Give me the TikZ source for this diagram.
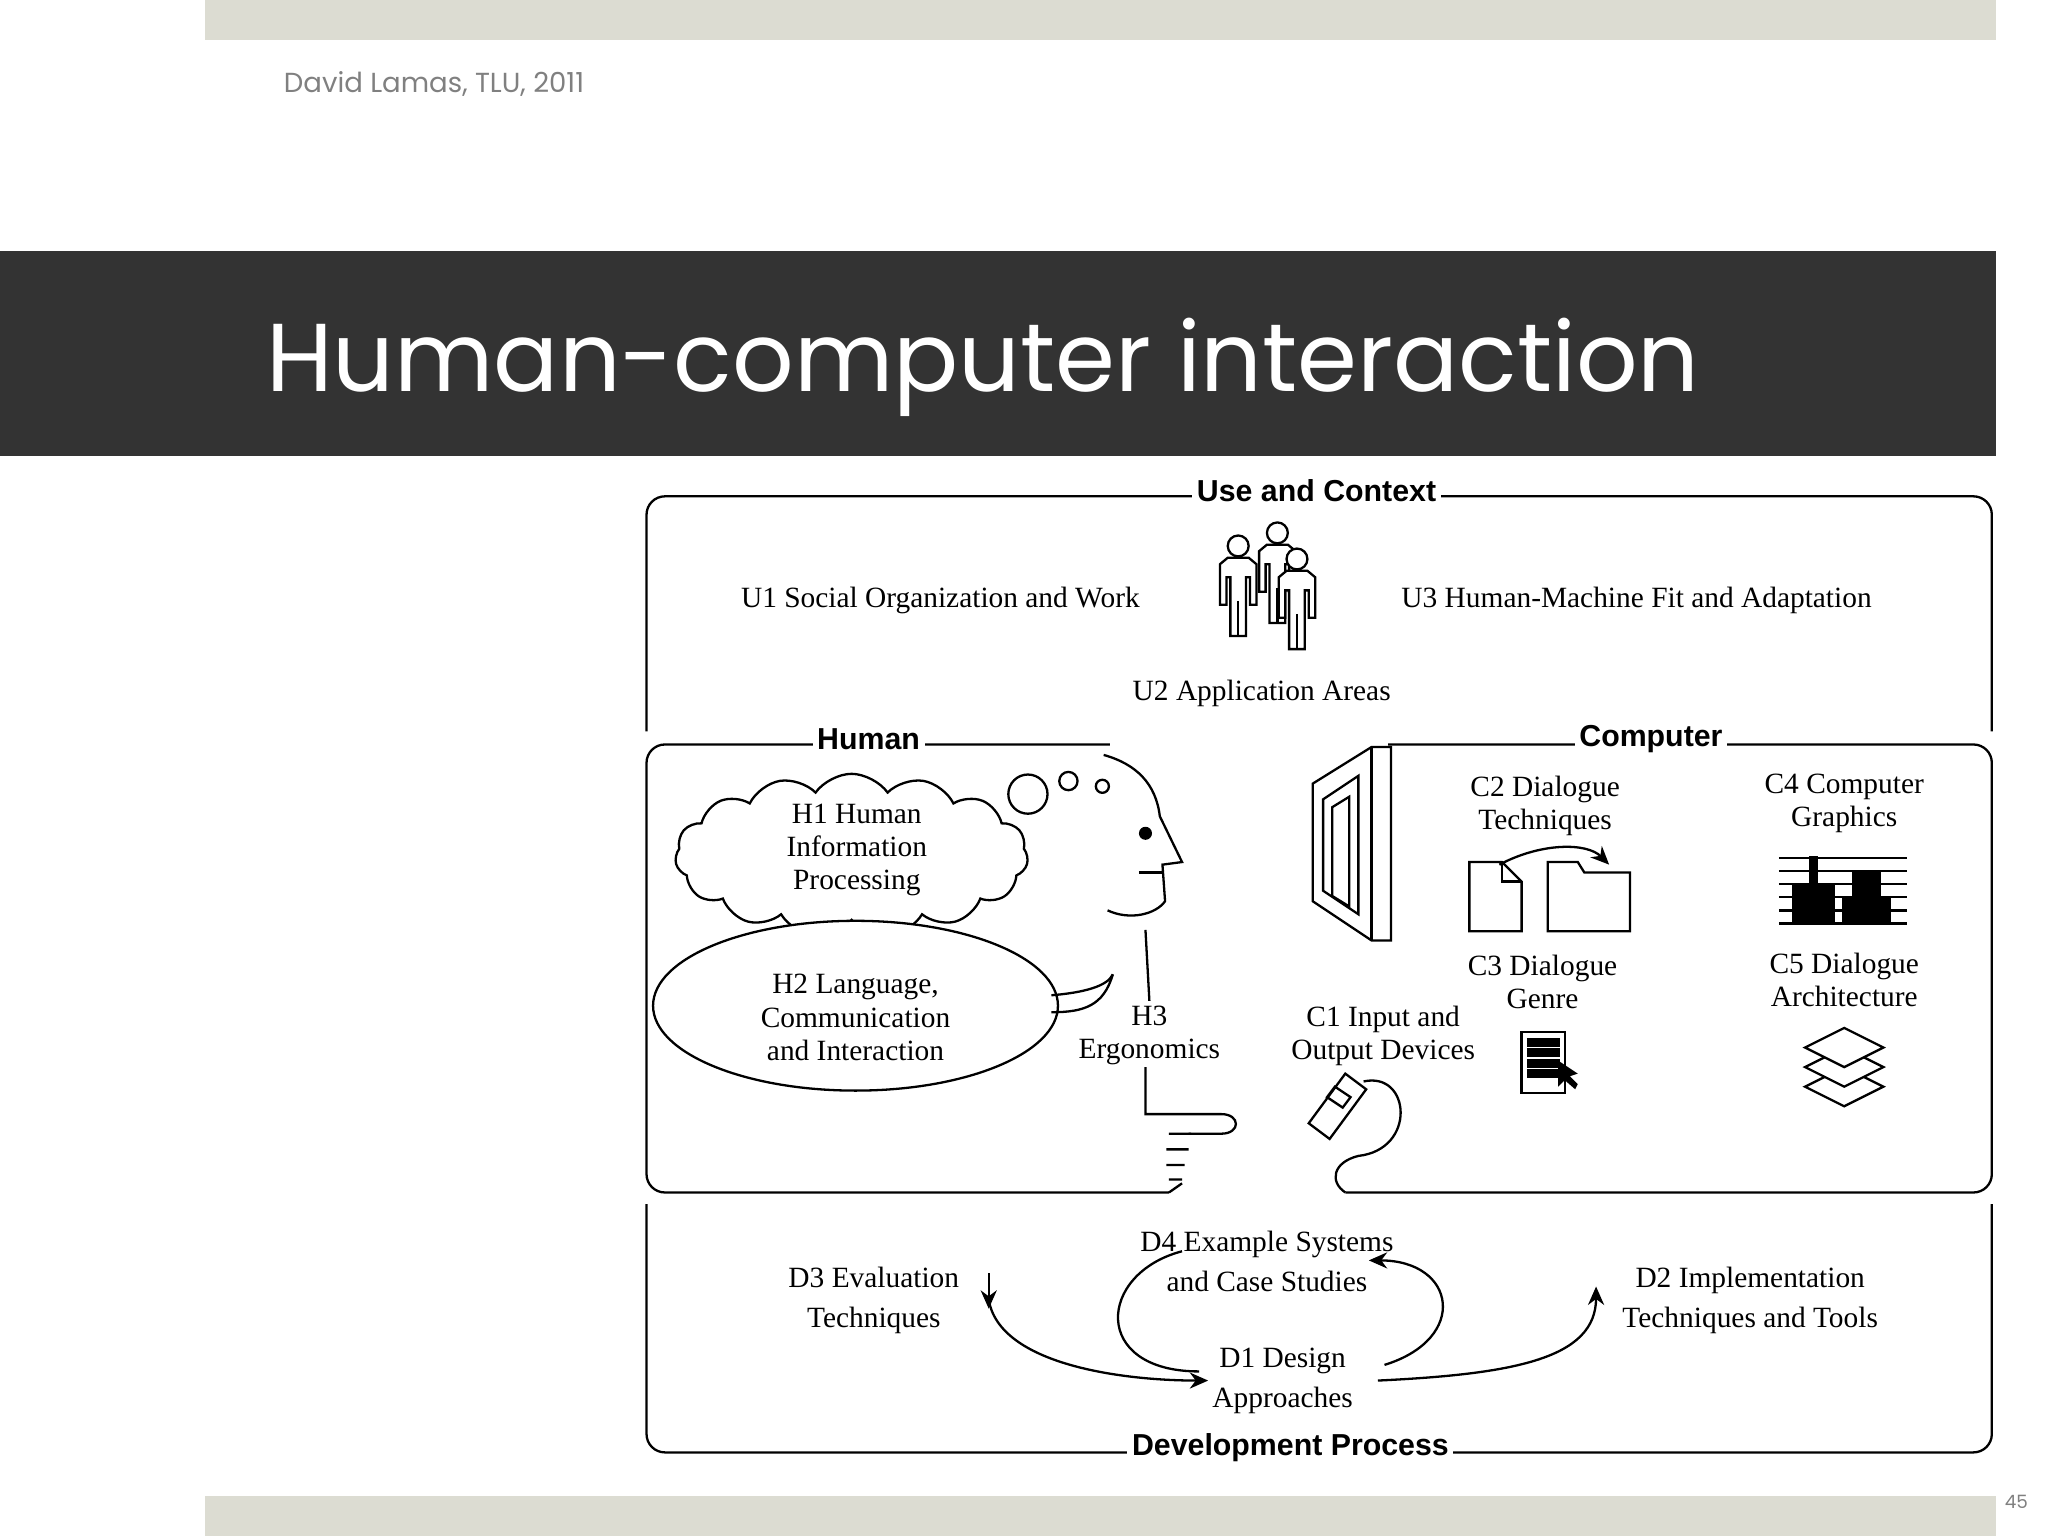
\documentclass[tikz,border=0pt]{standalone}
\usepackage{fontspec}
\setmainfont{Liberation Serif}
\newfontfamily\titlefont{Poppins}
\newfontfamily\hdfont{Liberation Sans}
\usetikzlibrary{arrows.meta,shapes.symbols,shapes.geometric}
\definecolor{barg}{HTML}{DCDCD2}
\definecolor{band}{HTML}{333333}
\tikzset{
 lab/.style={font=\fontsize{6.4}{7.2}\selectfont, align=center, inner sep=1pt},
 hd/.style={font=\hdfont\bfseries\fontsize{6.6}{7}\selectfont, inner sep=1pt, fill=white},
 ln/.style={line width=0.5pt, black},
 arr/.style={ln, -{Stealth[length=4pt,width=3.5pt]}}
}
\begin{document}
\begin{tikzpicture}[x=0.01cm,y=-0.01cm]
\useasboundingbox (0,0) rectangle (1568,1176);
\fill[barg] (157,0) rectangle (1528,31);
\fill[barg] (157,1145) rectangle (1528,1176);
\node[anchor=west, text=gray, font=\titlefont\fontsize{6}{7}\selectfont] (auth) at (205,64) {David Lamas, TLU, 2011};
\node[anchor=east, text=gray, font=\titlefont\fontsize{4}{5}\selectfont] (pg) at (1565,1150) {45};
\fill[band] (0,192) rectangle (1528,349);
\node[anchor=base west, text=white, font=\titlefont\fontsize{21}{25}\selectfont, inner sep=0] (title) at (203,300) {Human-computer interaction};

% frames
\draw[ln, rounded corners=4pt] (495,560)--(495,380)--(1525,380)--(1525,560);
\node[hd] (uc) at (1008,376) {Use and Context};
\draw[ln, rounded corners=4pt] (1030,913)--(1525,913)--(1525,570)--(495,570)--(495,913)--(895,913);
\fill[white] (850,565) rectangle (1063,575);
\node[hd] (hu) at (665,566) {Human};
\node[hd] (co) at (1264,566) {Computer};
\draw[ln, rounded corners=4pt] (495,922)--(495,1112)--(1525,1112)--(1525,922);
\node[hd] (dp) at (988,1108) {Development Process};

% use and context
\node[lab] (u1) at (720,460) {U1 Social Organization and Work};
\node[lab] (u3) at (1253,460) {U3 Human-Machine Fit and Adaptation};
\node[lab] (u2) at (966,531) {U2 Application Areas};
\foreach \px/\py in {948/430, 978/420, 993/440}{
 \draw[ln, fill=white] (\px,\py-12) circle (8);
 \draw[ln, fill=white] (\px-8,\py-3)--(\px+8,\py-3)--(\px+14,\py+2)--(\px+14,\py+33)--(\px+9,\py+33)--(\px+9,\py+12)--(\px+6,\py+12)--(\px+6,\py+57)--(\px-6,\py+57)--(\px-6,\py+12)--(\px-9,\py+12)--(\px-9,\py+33)--(\px-14,\py+33)--(\px-14,\py+2)--cycle;
 \draw[ln] (\px,\py+30)--(\px,\py+57);
}

% human
\node[cloud, draw, ln, cloud puffs=15, cloud puff arc=110, aspect=2.2, minimum width=2.7cm, minimum height=1.25cm] (cl) at (652,655) {};
\node[lab] (h1) at (656,651) {H1 Human\\Information\\Processing};
\draw[ln, fill=white] (655,770) ellipse (155 and 65);
\node[lab] (h2) at (655,779) {H2 Language,\\Communication\\and Interaction};
\draw[ln] (805,762) .. controls (830,760) and (848,755) .. (852,746);
\draw[ln] (805,775) .. controls (830,775) and (845,770) .. (852,746);
\draw[ln] (787,608) circle (15);
\draw[ln] (818,598) circle (7);
\draw[ln] (844,602) circle (5);
\draw[ln] (845,578) .. controls (870,585) and (885,600) .. (888,625) -- (905,660) -- (890,662) -- (892,690) .. controls (885,700) and (865,705) .. (848,697);
\draw[ln] (872,668) -- (890,668);
\fill (877,638) circle (5);
\node[lab] (h3) at (880,793) {H3\\Ergonomics};
\draw[ln] (877,712)--(h3.north);
\draw[ln] (877,817)--(877,853)--(935,853) .. controls (950,853) and (950,868) .. (935,868)--(910,868);
\draw[ln] (895,868)--(912,868) (893,880)--(910,880) (893,892)--(907,892) (895,903)--(905,903) (895,913)--(905,906);

% computer
\draw[ln] (1005,600)--(1050,572)--(1065,572)--(1065,720)--(1050,720)--(1005,690)--cycle;
\draw[ln] (1050,572)--(1050,720);
\draw[ln] (1013,612)--(1040,594)--(1040,700)--(1013,682)--cycle;
\draw[ln] (1020,618)--(1033,610)--(1033,694)--(1020,686)--cycle;
\node[lab] (c2) at (1183,617) {C2 Dialogue\\Techniques};
\node[lab] (c4) at (1412,615) {C4 Computer\\Graphics};
\node[lab] (c3) at (1181,752) {C3 Dialogue\\Genre};
\node[lab] (c5) at (1412,750) {C5 Dialogue\\Architecture};
\node[lab] (c1) at (1059,793) {C1 Input and\\Output Devices};
\draw[ln] (1125,660)--(1150,660)--(1165,675)--(1165,713)--(1125,713)--cycle;
\draw[ln] (1150,660)--(1150,675)--(1165,675);
\draw[ln] (1185,713)--(1185,660)--(1208,660)--(1213,668)--(1248,668)--(1248,713)--cycle;
\draw[arr] (1148,662) .. controls (1180,645) and (1215,645) .. (1232,662);
\foreach \yy in {657,667,677,687,697,707} \draw[ln] (1362,\yy)--(1460,\yy);
\fill (1385,655) rectangle (1392,707);
\fill (1372,677) rectangle (1405,707);
\fill (1418,668) rectangle (1440,707);
\fill (1410,687) rectangle (1448,707);
\foreach \yy in {832,817,802}
 \draw[ln, fill=white] (1382,\yy)--(1412,\yy-15)--(1442,\yy)--(1412,\yy+15)--cycle;
\draw[ln, fill=white] (1165,790) rectangle (1198,837);
\foreach \yy in {798,806,814,822} \draw[ln, line width=2pt] (1169,\yy)--(1194,\yy);
\fill (1193,812)--(1193,832)--(1198,827)--(1206,834)--(1208,830)--(1202,824)--(1208,822)--cycle;
\draw[ln] (1002,860)--(1030,822)--(1046,834)--(1018,872)--cycle;
\draw[ln] (1022,832)--(1034,840)--(1028,848)--(1016,840)--cycle;
\draw[ln] (1044,828) .. controls (1080,820) and (1085,880) .. (1040,885) .. controls (1020,890) and (1018,905) .. (1030,913);

% development
\node[lab] (d4) at (970,966) {D4 Example Systems\\[1.5pt]and Case Studies};
\node[lab] (d3) at (669,996) {D3 Evaluation\\[1.5pt]Techniques};
\node[lab] (d2) at (1340,996) {D2 Implementation\\[1.5pt]Techniques and Tools};
\node[lab] (d1) at (982,1057) {D1 Design\\[1.5pt]Approaches};
\coordinate (a3) at (757,975);
\draw[arr] (a3)--(757,1002);
\draw[arr] (757,995) .. controls (765,1045) and (860,1057) .. (925,1057);
\draw[arr] (1055,1057) .. controls (1160,1052) and (1222,1040) .. (1222,985);
\draw[arr] (1060,1045) .. controls (1125,1025) and (1115,965) .. (1048,965);
\draw[ln] (905,958) .. controls (840,975) and (835,1050) .. (918,1050);
\end{tikzpicture}
\end{document}
